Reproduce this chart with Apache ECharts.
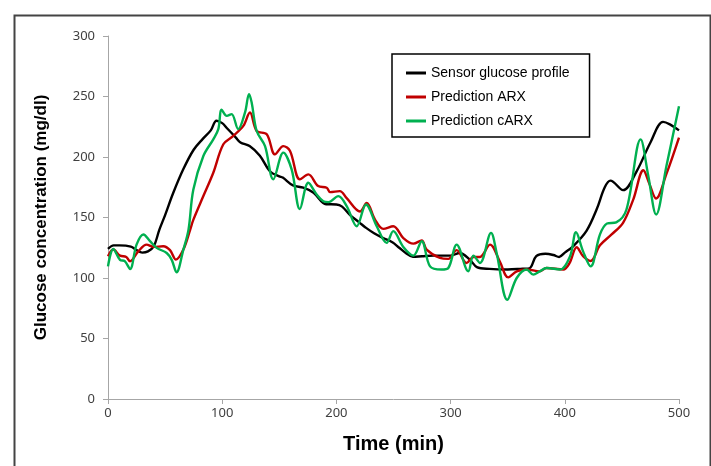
<!DOCTYPE html>
<html>
<head>
<meta charset="utf-8">
<script src="https://cdn.jsdelivr.net/npm/echarts@6/dist/echarts.min.js"></script>
<style>html,body{margin:0;padding:0;background:#fff}#c{width:711px;height:466px}</style>
</head>
<body>
<div id="c"></div>
<script>
// ---- data ----
const seriesNames = ["Sensor glucose profile", "Prediction ARX", "Prediction cARX"];
const xTicks = [0, 100, 200, 300, 400, 500];
const yTicks = [0, 50, 100, 150, 200, 250, 300];

const sensorTime = [0,5,10,20,25,30,35,40,45,50,57,66,75,83,90,95,100,104,112,116,124,133,142,150,153,162,171,180,191,200,205,212,220,226,233,241,249,255,261,267,275,285,300,308,317,323,334,350,363,369,375,383,390,395,400,407,419,428,435,440,451,463,475,486,492,500];
const sensorGlucose = [124,127,127,126,123,121,122,126,140,152,170,190,206,215,222,230,228,224,216,212,209,201,188,184,183,176.5,174.6,170.5,161,160.8,159,152,146,141.4,137,133,129.5,125,120.5,117.5,118,118.5,118.5,120.7,115,109,107.5,107,107.7,108,118,120,119,117.4,121,126,139,157,175,180.5,172.6,188.4,212,229,227,222];

const arxTime = [0,4.6,10.5,16,19.3,26.5,33.8,39.7,48.4,54.3,59.5,66,72,74.7,83.5,92.2,101,109.7,118.5,124.3,130.2,139,146.2,153.5,159.4,168,175.4,184,191.5,194.5,203,209,220.7,226.5,233.8,241,249.8,258.6,267.4,274.7,279,290.7,298,305.3,314,320,325.7,334.5,343,350.5,357.9,366.6,378,384,398.7,404,410.4,416,422.6,430.8,441,451,460,468.8,474,479.9,489,500];
const arxGlucose = [118,123.5,118.5,117.4,113.8,122,127.6,125.7,126.2,123,115.2,123.5,140,148,167.7,187,210.5,217.4,225.7,236.8,221.5,218.8,202.2,209,205,181.5,185.6,176,174.6,171,171.8,166,155,162,148.3,140.6,142.8,133,128.4,131,123.5,116.6,115.8,123,112.4,117.4,117.4,127.6,113.8,100.5,105.5,107,105.5,108.3,107,112,125.4,118,114,127,136,145.6,165,189,178,165.7,186,216];

const carxTime = [0,4.6,10.5,14.7,19.3,25,31,36.8,42.6,51.4,55.8,60,66,70.5,74.7,83.5,92.2,96.6,99.5,104,108.2,114,120,123.5,125.8,130.2,137.5,144.7,153.5,160.8,168,175.4,182.7,188.5,193,201.7,209,217.8,225.9,235.3,244,249.8,258.6,267.4,274.7,282,292,298,305.3,315.5,320,325.7,335.4,340.3,349.7,357.9,366.6,372.4,378,384,395.8,404.6,409.8,416,422.6,430.8,437,445,454,466.4,473,480,489,500];
const carxGlucose = [109.6,124,115,114,107.5,127.6,136,130.4,124.9,120.7,115,104.7,123.5,140,173,200.8,214.6,223,239,234,235.4,223,236.8,252,245,221.5,209,181.5,203.6,189.8,157,178.7,169,163.5,162.7,167.7,159.4,142.8,160.8,142.8,129,138.7,125.6,118.5,130.4,109.6,107,108.3,127.6,105.5,118.5,112.4,137.3,120.7,82,100,107,102.8,105.5,108.3,107,118,137.8,122,109.6,136,145,146,156.6,214.6,185,152.5,192.5,242];

const colors = ["#000000", "#c00000", "#00b050"];

function pairs(t, v) { return t.map((x, i) => [x, v[i]]); }

const chart = echarts.init(document.getElementById('c'), null, {renderer: 'canvas'});
const axisFont = {fontFamily: 'Noto Sans', fontSize: 13, color: '#404040'};
chart.setOption({
  animation: false,
  backgroundColor: '#fff',
  graphic: [{
    type: 'rect', left: 12, top: 13, silent: true,
    shape: {x: 0, y: 0, width: 696, height: 470},
    style: {fill: 'none', stroke: '#444', lineWidth: 2}
  }],
  grid: {left: 108, right: 32, top: 36, bottom: 67, containLabel: false},
  legend: {
    orient: 'vertical', left: 392, top: 54,
    data: seriesNames,
    icon: 'rect', itemWidth: 20, itemHeight: 3, itemGap: 10,
    borderColor: '#000', borderWidth: 1.5,
    padding: [12, 20, 9, 14],
    backgroundColor: '#fff',
    textStyle: {fontFamily: 'Liberation Sans', fontSize: 14, color: '#000', lineHeight: 14}
  },
  xAxis: {
    type: 'value', min: 0, max: 500, interval: 100,
    name: 'Time (min)', nameLocation: 'middle', nameGap: 35,
    nameTextStyle: {fontFamily: 'Liberation Sans', fontWeight: 'bold', fontSize: 20, color: '#000'},
    axisLine: {lineStyle: {color: '#a6a6a6', width: 1}},
    axisTick: {show: true, length: 5, lineStyle: {color: '#a6a6a6'}},
    axisLabel: Object.assign({margin: 8, formatter: v => xTicks.includes(v) ? String(v) : ''}, axisFont),
    splitLine: {show: false}
  },
  yAxis: {
    type: 'value', min: 0, max: 300, interval: 50,
    name: 'Glucose concentration (mg/dl)', nameLocation: 'middle', nameGap: 58,
    nameTextStyle: {fontFamily: 'Liberation Sans', fontWeight: 'bold', fontSize: 17, color: '#000'},
    axisLine: {show: true, lineStyle: {color: '#a6a6a6', width: 1}},
    axisTick: {show: true, length: 5, lineStyle: {color: '#a6a6a6'}},
    axisLabel: Object.assign({margin: 13, formatter: v => yTicks.includes(v) ? String(v) : ''}, axisFont),
    splitLine: {show: false}
  },
  series: [
    {name: seriesNames[0], type: 'line', data: pairs(sensorTime, sensorGlucose), z: 3},
    {name: seriesNames[1], type: 'line', data: pairs(arxTime, arxGlucose), z: 4},
    {name: seriesNames[2], type: 'line', data: pairs(carxTime, carxGlucose), z: 5}
  ].map((s, i) => Object.assign(s, {
    smooth: 0.35, showSymbol: false, symbol: 'none',
    color: colors[i],
    lineStyle: {color: colors[i], width: 2.4}
  }))
});
</script>
</body>
</html>
